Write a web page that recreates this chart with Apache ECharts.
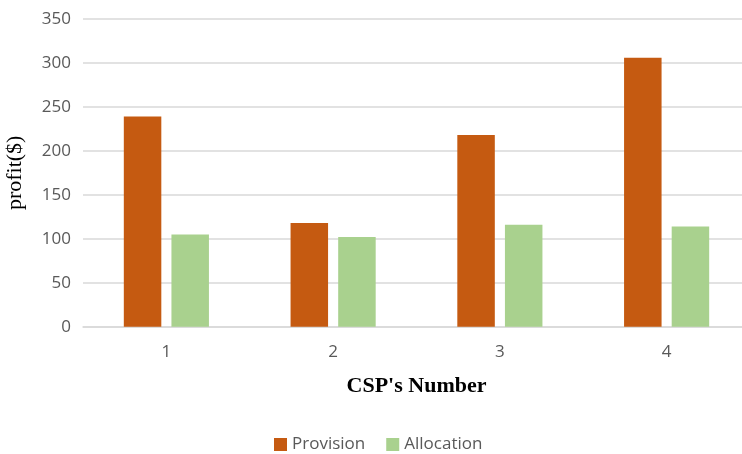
<!DOCTYPE html>
<html>
<head>
<meta charset="utf-8">
<script src="https://cdn.jsdelivr.net/npm/echarts@6/dist/echarts.min.js"></script>
<style>
  html, body { margin: 0; padding: 0; background: #fff; }
  #chart { width: 742px; height: 454px; }
</style>
</head>
<body>
<div id="chart"></div>
<script>
// CSP profit comparison: provision vs allocation
const categories = ['1', '2', '3', '4'];
const provision = [239, 118, 218, 306];
const allocation = [105, 102, 116, 114];
const yTicks = { min: 0, max: 350, interval: 50 };

const chart = echarts.init(document.getElementById('chart'));
const labelFont = '"Open Sans", "Noto Sans", sans-serif';

chart.setOption({
  animation: false,
  grid: { left: 83, top: 19, width: 667, height: 307.7, containLabel: false, outerBoundsMode: 'none' },
  legend: {
    top: 436,
    left: 274,
    padding: 0,
    itemWidth: 13,
    itemHeight: 13,
    itemGap: 21,
    icon: 'rect',
    textStyle: { color: '#595959', fontSize: 17, fontFamily: labelFont },
    data: ['Provision', 'Allocation']
  },
  xAxis: {
    type: 'category',
    data: categories,
    name: "CSP's Number",
    nameLocation: 'middle',
    nameGap: 49,
    nameMoveOverlap: false,
    nameTextStyle: { fontFamily: '"Liberation Serif", serif', fontWeight: 'bold', fontSize: 22, color: '#000' },
    axisLine: { lineStyle: { color: '#d9d9d9', width: 1.5 } },
    axisTick: { show: false },
    axisLabel: { color: '#595959', fontSize: 17, fontFamily: labelFont, margin: 17 }
  },
  yAxis: {
    type: 'value',
    min: yTicks.min,
    max: yTicks.max,
    interval: yTicks.interval,
    name: 'profit($)',
    nameLocation: 'middle',
    nameGap: 57,
    nameMoveOverlap: false,
    nameTextStyle: { fontFamily: '"Liberation Serif", serif', fontSize: 22, color: '#000' },
    axisLine: { show: false },
    axisTick: { show: false },
    axisLabel: { color: '#595959', fontSize: 17, fontFamily: labelFont, margin: 12 },
    splitLine: { lineStyle: { color: '#d9d9d9', width: 1.5 } }
  },
  series: [
    {
      name: 'Provision',
      type: 'bar',
      data: provision,
      barWidth: 37.5,
      barGap: '27%',
      itemStyle: { color: '#C55A11' }
    },
    {
      name: 'Allocation',
      type: 'bar',
      data: allocation,
      barWidth: 37.5,
      itemStyle: { color: '#A9D18E' }
    }
  ]
});
</script>
</body>
</html>
